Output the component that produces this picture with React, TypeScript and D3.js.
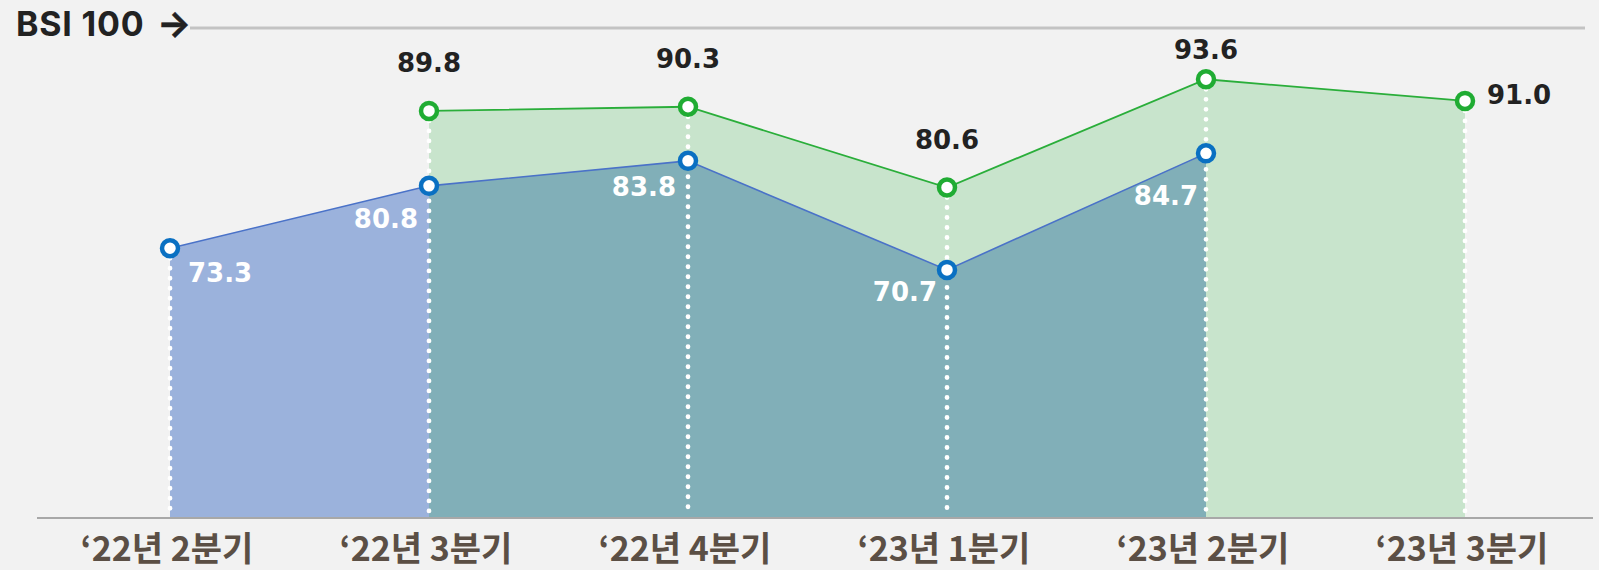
import React from 'react';
import * as d3 from 'd3';

// 분기 라벨
const categories = ['‘22년 2분기', '‘22년 3분기', '‘22년 4분기', '‘23년 1분기', '‘23년 2분기', '‘23년 3분기'];
// 실적 (파랑)
const actualValues: (number | null)[] = [73.3, 80.8, 83.8, 70.7, 84.7, null];
// 전망 (초록)
const outlookValues: (number | null)[] = [null, 89.8, 90.3, 80.6, 93.6, 91.0];
const refLabel = 'BSI 100';

const W = 1599;
const H = 570;
const baseY = 518;

// label nudges (dx, dy from the marker)
const actualLabelNudge = [[18, 34], [-11, 42], [-12, 35], [-10, 31], [-8, 52]];

export default function App() {
  const x = d3.scalePoint<string>().domain(categories).range([170, 1465]);
  const y = d3.scaleLinear().domain([40.9, 100]).range([baseY, 26]);

  const pts = (vals: (number | null)[]) =>
    vals.map((v, i) => ({ c: categories[i], v }));

  const area = d3
    .area<{ c: string; v: number | null }>()
    .defined((d) => d.v != null)
    .x((d) => x(d.c) as number)
    .y0(baseY)
    .y1((d) => y(d.v as number));

  const line = d3
    .line<{ c: string; v: number | null }>()
    .defined((d) => d.v != null)
    .x((d) => x(d.c) as number)
    .y((d) => y(d.v as number));

  const actual = pts(actualValues);
  const outlook = pts(outlookValues);

  // overlap range (both series defined)
  const both = categories.filter((_, i) => actualValues[i] != null && outlookValues[i] != null);
  const ovX0 = x(both[0]) as number;
  const ovX1 = x(both[both.length - 1]) as number;

  const numFont = "'DejaVu Sans', sans-serif";

  return (
    <svg width={W} height={H} style={{ display: 'block', background: '#f2f2f2' }}>
      <style>{`body{margin:0;background:#f2f2f2}`}</style>
      <defs>
        <clipPath id="ov">
          <rect x={ovX0} y={0} width={ovX1 - ovX0} height={H} />
        </clipPath>
      </defs>
      <rect width={W} height={H} fill="#f2f2f2" />

      {/* 기준선 BSI 100 */}
      <text x={16} y={36} fontFamily="Inter, sans-serif" fontWeight={700} fontSize={34} fill="#222" letterSpacing={0.8}>
        {refLabel}
      </text>
      <text x={157} y={36} fontFamily="Inter, sans-serif" fontWeight={700} fontSize={36} fill="#222" stroke="#222" strokeWidth={0.4}>
        →
      </text>
      <line x1={190} x2={1585} y1={y(100) + 2} y2={y(100) + 2} stroke="#c3c3c3" strokeWidth={3} />

      {/* areas */}
      <path d={area(outlook) || ''} fill="#c8e4cc" />
      <path d={area(actual) || ''} fill="#9bb2dc" />
      <path d={area(actual) || ''} fill="#81afb8" clipPath="url(#ov)" />

      {/* baseline */}
      <line x1={37} x2={1593} y1={baseY} y2={baseY} stroke="#a8a8a8" strokeWidth={2} />

      {/* dotted drop lines */}
      {categories.map((c, i) => {
        const vals = [actualValues[i], outlookValues[i]].filter((v) => v != null) as number[];
        const top = y(d3.max(vals) as number);
        return (
          <line
            key={c}
            x1={x(c)}
            x2={x(c)}
            y1={top + 10}
            y2={baseY - 2}
            stroke="#fff"
            strokeWidth={4.8}
            strokeLinecap="round"
            strokeDasharray="0 10"
          />
        );
      })}

      {/* lines */}
      <path d={line(outlook) || ''} fill="none" stroke="#2aae3a" strokeWidth={1.8} />
      <path d={line(actual) || ''} fill="none" stroke="#4a72c8" strokeWidth={1.6} />

      {/* markers */}
      {outlook.filter((d) => d.v != null).map((d) => (
        <circle key={'o' + d.c} cx={x(d.c)} cy={y(d.v as number)} r={8} fill="#fff" stroke="#20ac33" strokeWidth={4.5} />
      ))}
      {actual.filter((d) => d.v != null).map((d) => (
        <circle key={'a' + d.c} cx={x(d.c)} cy={y(d.v as number)} r={8} fill="#fff" stroke="#0a70c2" strokeWidth={4.5} />
      ))}

      {/* outlook labels */}
      {outlook.filter((d) => d.v != null).map((d, i, arr) => {
        const px = x(d.c) as number;
        const py = y(d.v as number);
        const last = i === arr.length - 1;
        return (
          <text
            key={'ol' + d.c}
            x={last ? px + 22 : px}
            y={last ? py + 3 : Math.max(py - 39, 59)}
            textAnchor={last ? 'start' : 'middle'}
            fontFamily={numFont}
            fontWeight={700}
            fontSize={26}
            fill="#222"
          >
            {(d.v as number).toFixed(1)}
          </text>
        );
      })}

      {/* actual labels */}
      {actual.filter((d) => d.v != null).map((d, i) => {
        const px = x(d.c) as number;
        const py = y(d.v as number);
        const [dx, dy] = actualLabelNudge[i];
        return (
          <text
            key={'al' + d.c}
            x={px + dx}
            y={py + dy}
            textAnchor={dx > 0 ? 'start' : 'end'}
            fontFamily={numFont}
            fontWeight={700}
            fontSize={26}
            fill="#fff"
          >
            {(d.v as number).toFixed(1)}
          </text>
        );
      })}

      {/* x axis labels */}
      {categories.map((c) => (
        <text
          key={'x' + c}
          x={(x(c) as number) - 3}
          y={561}
          textAnchor="middle"
          fontFamily="'Noto Sans CJK KR', sans-serif"
          fontWeight={700}
          fontSize={34}
          fill="#5b4f45"
        >
          {c}
        </text>
      ))}
    </svg>
  );
}
